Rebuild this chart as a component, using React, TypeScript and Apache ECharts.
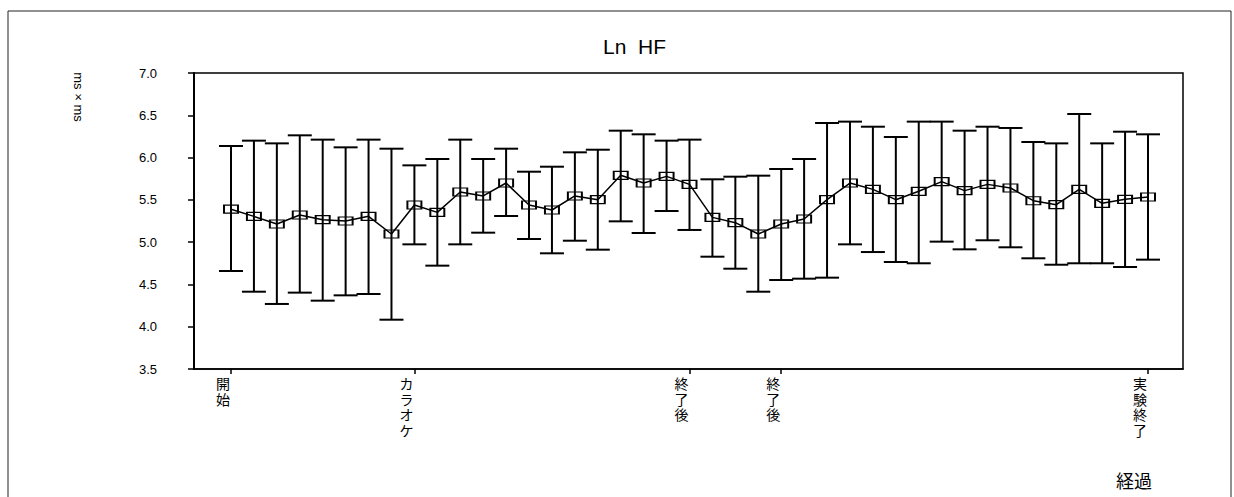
import React, { useEffect, useRef } from "react";
import * as echarts from "echarts";

const means = [5.39, 5.305, 5.214, 5.321, 5.266, 5.25, 5.305, 5.096, 5.439, 5.352, 5.593, 5.546, 5.699, 5.439, 5.38, 5.546, 5.502, 5.79, 5.699, 5.778, 5.683, 5.293, 5.23, 5.096, 5.214, 5.274, 5.502, 5.699, 5.624, 5.502, 5.601, 5.715, 5.609, 5.683, 5.64, 5.49, 5.443, 5.624, 5.459, 5.506, 5.534];
const upperValues = [6.137, 6.2, 6.168, 6.263, 6.212, 6.121, 6.212, 6.105, 5.908, 5.983, 6.212, 5.983, 6.105, 5.833, 5.892, 6.062, 6.093, 6.318, 6.275, 6.2, 6.212, 5.743, 5.774, 5.786, 5.865, 5.983, 6.409, 6.425, 6.365, 6.243, 6.425, 6.425, 6.318, 6.365, 6.35, 6.184, 6.168, 6.515, 6.168, 6.306, 6.275];
const lowerValues = [4.659, 4.414, 4.269, 4.403, 4.308, 4.371, 4.387, 4.083, 4.974, 4.722, 4.974, 5.112, 5.309, 5.037, 4.868, 5.017, 4.911, 5.246, 5.108, 5.368, 5.144, 4.828, 4.686, 4.414, 4.552, 4.568, 4.58, 4.974, 4.883, 4.765, 4.75, 5.006, 4.915, 5.022, 4.939, 4.809, 4.733, 4.75, 4.75, 4.706, 4.793];
const tickIndices = [0, 8, 20, 24, 40];
const tickLabels = ["開始", "カラオケ", "終了後", "終了後", "実験終了"];
const titleText = "Ln  HF";
const yAxisName = "ms × ms";
const xAxisName = "経過";

export default function App() {
  const ref = useRef<HTMLDivElement>(null);
  useEffect(() => {
    if (!ref.current) return;
    const chart = echarts.init(ref.current, undefined, { renderer: "svg" });
    const labelMap: Record<number, string> = {};
    tickIndices.forEach((t, i) => (labelMap[t] = tickLabels[i].split("").join("\n")));
    chart.setOption({
      animation: false,
      backgroundColor: "#fff",
      title: {
        text: titleText,
        left: 598,
        top: 31,
        textStyle: { fontFamily: "Liberation Sans", fontSize: 21, fontWeight: "normal", color: "#000" },
      },
      grid: {
        left: 194,
        top: 73,
        width: 989,
        height: 296,
        show: true,
        borderColor: "#000",
        borderWidth: 1.5,
        backgroundColor: "transparent",
      },
      xAxis: {
        type: "value",
        min: -1.614,
        max: 41.527,
        splitLine: { show: false },
        axisLine: { show: true, onZero: false, lineStyle: { color: "#000", width: 1.5 } },
        axisTick: { show: true, customValues: tickIndices, length: 5, lineStyle: { color: "#000", width: 1.5 } },
        axisLabel: {
          customValues: tickIndices,
          formatter: (v: number) => labelMap[Math.round(v)] ?? "",
          margin: 7,
          padding: [0, 16, 0, 0],
          fontFamily: "Liberation Sans, Noto Sans CJK JP",
          fontSize: 14,
          lineHeight: 15.7,
          color: "#000",
        },
      },
      yAxis: {
        type: "value",
        min: 3.5,
        max: 7.0,
        interval: 0.5,
        splitLine: { show: false },
        axisLine: { show: true, onZero: false, lineStyle: { color: "#000", width: 2 } },
        axisTick: { show: true, length: 6, lineStyle: { color: "#000", width: 1.5 } },
        axisLabel: {
          formatter: (v: number) => v.toFixed(1),
          margin: 37,
          fontFamily: "Liberation Sans",
          fontSize: 13,
          color: "#000",
        },
      },
      graphic: [
        {
          type: "rect",
          shape: { x: 8, y: 11, width: 1223, height: 500 },
          style: { fill: "none", stroke: "#222", lineWidth: 1 },
          silent: true,
        },
        {
          type: "text",
          x: 78,
          y: 97,
          rotation: -Math.PI / 2,
          style: {
            text: yAxisName,
            fontFamily: "Liberation Sans",
            fontSize: 13,
            fill: "#000",
            align: "center",
            verticalAlign: "middle",
          },
        },
        {
          type: "text",
          x: 1134,
          y: 480,
          style: {
            text: xAxisName,
            fontFamily: "Noto Sans CJK JP",
            fontSize: 18,
            fill: "#000",
            align: "center",
            verticalAlign: "middle",
          },
        },
      ],
      series: [
        {
          type: "custom",
          data: means.map((_, i) => [i, lowerValues[i], upperValues[i]]),
          encode: { x: 0, y: [1, 2] },
          renderItem: (params: any, api: any) => {
            const x = api.value(0);
            const pLo = api.coord([x, api.value(1)]);
            const pHi = api.coord([x, api.value(2)]);
            const hw = 12;
            const st = { stroke: "#000", lineWidth: 2 };
            return {
              type: "group",
              children: [
                { type: "line", shape: { x1: pHi[0], y1: pHi[1], x2: pLo[0], y2: pLo[1] }, style: st },
                { type: "line", shape: { x1: pHi[0] - hw, y1: pHi[1], x2: pHi[0] + hw, y2: pHi[1] }, style: st },
                { type: "line", shape: { x1: pLo[0] - hw, y1: pLo[1], x2: pLo[0] + hw, y2: pLo[1] }, style: st },
              ],
            };
          },
          z: 2,
        },
        {
          type: "line",
          data: means.map((m, i) => [i, m]),
          symbol: "rect",
          symbolSize: [14, 8],
          showAllSymbol: true,
          lineStyle: { color: "#000", width: 1.5 },
          itemStyle: { color: "transparent", borderColor: "#000", borderWidth: 1.5 },
          z: 3,
        },
      ],
    });
    return () => chart.dispose();
  }, []);
  return (
    <div
      ref={ref}
      style={{ position: "fixed", left: 0, top: 0, width: 1234, height: 497, background: "#fff" }}
    />
  );
}
